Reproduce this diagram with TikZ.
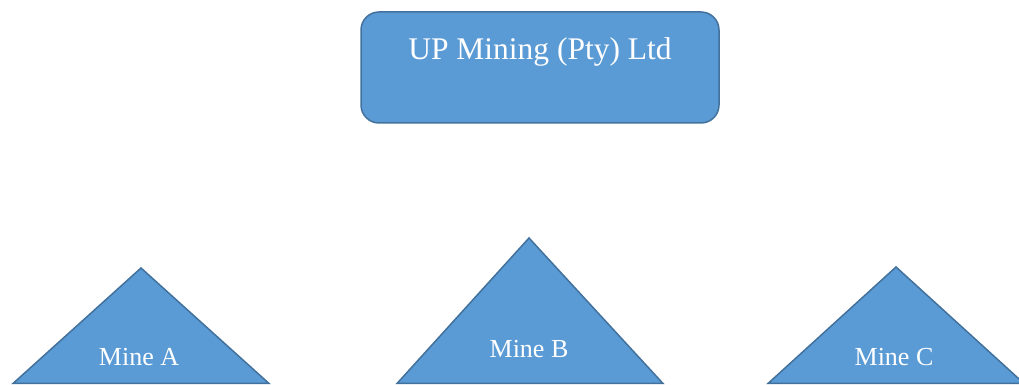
\documentclass[tikz,border=0pt]{standalone}
\usepackage{fontspec}
\setmainfont{Liberation Serif}
\definecolor{fillblue}{HTML}{5B9BD5}
\definecolor{edgeblue}{HTML}{41719C}
\tikzset{
  shapestyle/.style={fill=fillblue, draw=edgeblue, line width=1.5pt, line join=miter},
  titletext/.style={text=white, font=\fontsize{31.5}{36}\selectfont, inner sep=0pt, anchor=base},
  minetext/.style={text=white, font=\fontsize{26}{30}\selectfont, inner sep=0pt, anchor=base}
}
\begin{document}
\begin{tikzpicture}[x=1pt,y=1pt]
\useasboundingbox (0,0) rectangle (1019,385);
\clip (0,0) rectangle (1019,385);
% top box
\draw[shapestyle, rounded corners=18pt] (361,373) rectangle (719,262);
\node[titletext] (top) at (540,325) {UP Mining (Pty) Ltd};
% triangles
\draw[shapestyle] (13,1.5) -- (141,117) -- (269,1.5) -- cycle;
\node[minetext] (mineA) at (139,19) {Mine A};
\draw[shapestyle] (397,1.5) -- (529,147) -- (663,1.5) -- cycle;
\node[minetext] (mineB) at (529,27) {Mine B};
\draw[shapestyle] (768,1.5) -- (896,118) -- (1024,1.5) -- cycle;
\node[minetext] (mineC) at (894,19) {Mine C};
\end{tikzpicture}
\end{document}
